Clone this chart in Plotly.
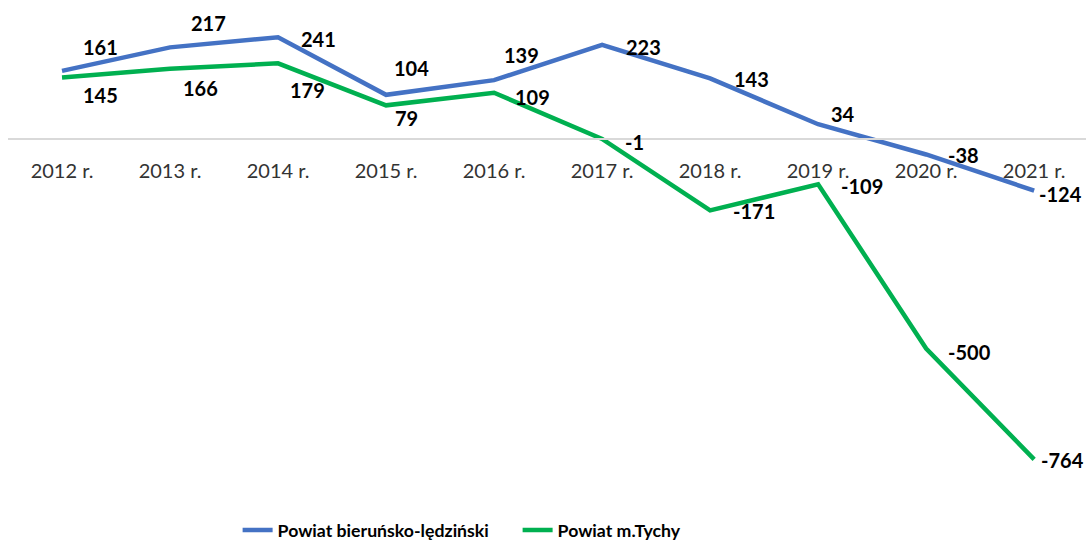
import plotly.graph_objects as go

years = ["2012 r.", "2013 r.", "2014 r.", "2015 r.", "2016 r.", "2017 r.", "2018 r.", "2019 r.", "2020 r.", "2021 r."]
bl_name = "Powiat bieruńsko-lędziński"
bl_values = [161, 217, 241, 104, 139, 223, 143, 34, -38, -124]
ty_name = "Powiat m.Tychy"
ty_values = [145, 166, 179, 79, 109, -1, -171, -109, -500, -764]

# label offsets in pixels (dx, dy with dy positive downward)
bl_off = [(38, -24), (38, -24), (40, 2), (25, -27), (27, -25), (41, 2), (41, 1), (25, -10), (37, 1), (26, 3)]
ty_off = [(38, 17), (30, 19), (29, 27), (20, 13), (38, 4), (32, 3), (44, 1), (44, 2), (43, 3), (28, 1)]

BLUE = "#4472C4"
GREEN = "#00B050"
FONT = "Lato"

fig = go.Figure()
fig.add_trace(go.Scatter(x=years, y=bl_values, mode="lines", name=bl_name,
                         line=dict(color=BLUE, width=4.5)))
fig.add_trace(go.Scatter(x=years, y=ty_values, mode="lines", name=ty_name,
                         line=dict(color=GREEN, width=4.5)))

annotations = []
for vals, offs in ((bl_values, bl_off), (ty_values, ty_off)):
    for xc, v, (dx, dy) in zip(years, vals, offs):
        annotations.append(dict(x=xc, y=v, xref="x", yref="y", text=str(v), showarrow=False,
                                xshift=dx, yshift=-dy,
                                font=dict(family=FONT, size=20, color="#000000", weight="bold")))

ymin, ymax = -860.7, 329.8
zero_pos = (0 - ymin) / (ymax - ymin)

fig.update_layout(
    width=1086, height=546,
    margin=dict(l=8, r=0, t=0, b=46, autoexpand=False),
    paper_bgcolor="white", plot_bgcolor="white",
    font=dict(family=FONT),
    showlegend=True,
    legend=dict(orientation="h", x=0.213, xanchor="left", y=-0.061, yanchor="middle",
                font=dict(family=FONT, size=17.7, color="#000000", weight="bold"),
                entrywidth=235, tracegroupgap=0),
    xaxis=dict(type="category", range=[-0.5, 9.48], anchor="free", position=zero_pos,
               showline=True, linecolor="#D9D9D9", linewidth=2, showgrid=False,
               ticks="", ticklabelstandoff=14,
               tickfont=dict(family=FONT, size=20, color="#333333")),
    yaxis=dict(range=[ymin, ymax], visible=False, showgrid=False, zeroline=False),
    annotations=annotations,
)

fig.write_html("out.html", config={"displayModeBar": False},
               post_script="document.body.style.margin='0';")
